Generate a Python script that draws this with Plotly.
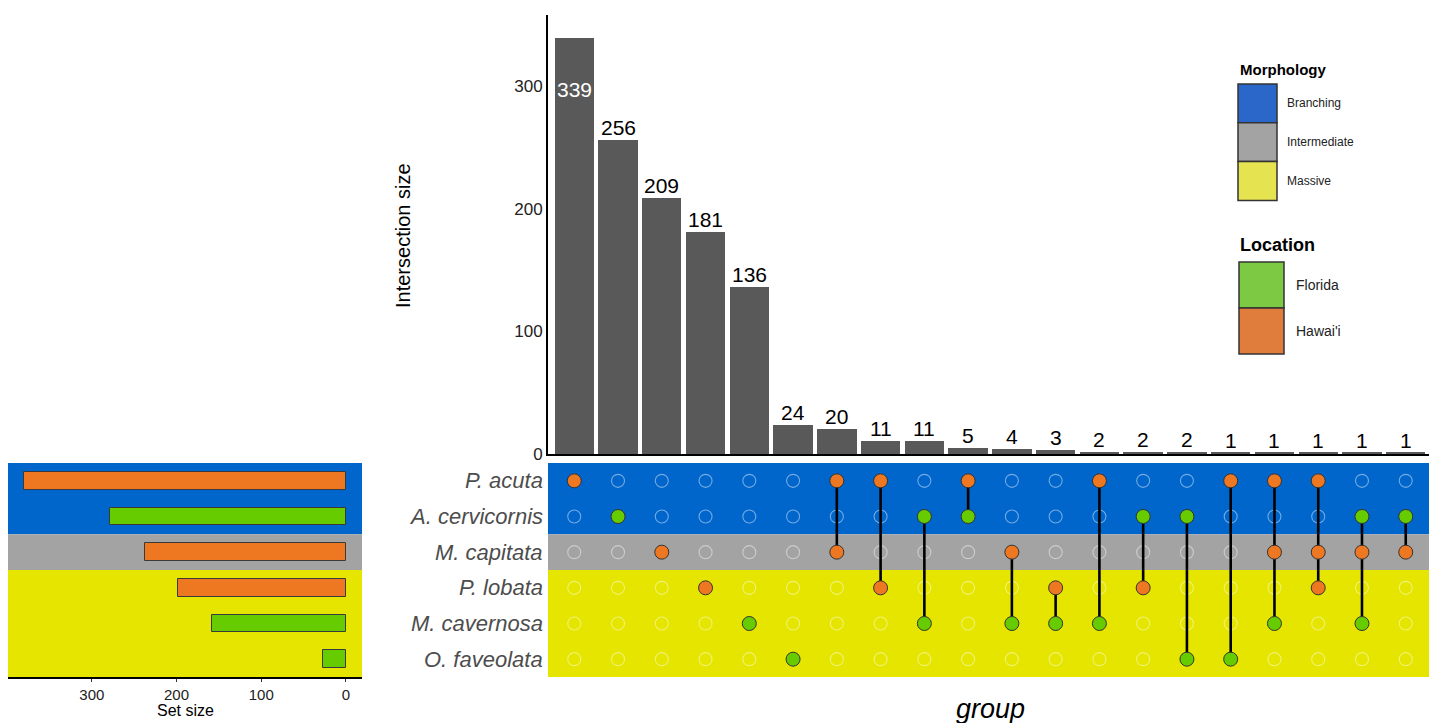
import plotly.graph_objects as go

W, H = 1437, 723
OFF = 8                      # page body margin added by the browser
FW, FH = W - OFF, H - OFF

# ---------------- data ----------------
sets = ["P. acuta", "A. cervicornis", "M. capitata", "P. lobata", "M. cavernosa", "O. faveolata"]
set_location = ["Hawai'i", "Florida", "Hawai'i", "Hawai'i", "Florida", "Florida"]
set_morphology = ["Branching", "Branching", "Intermediate", "Massive", "Massive", "Massive"]
set_sizes = [380, 278, 237, 198, 158, 27]

intersection_sizes = [339, 256, 209, 181, 136, 24, 20, 11, 11, 5, 4, 3, 2, 2, 2, 1, 1, 1, 1, 1]
intersection_members = [
    ["P. acuta"], ["A. cervicornis"], ["M. capitata"], ["P. lobata"], ["M. cavernosa"], ["O. faveolata"],
    ["P. acuta", "M. capitata"], ["P. acuta", "P. lobata"], ["A. cervicornis", "M. cavernosa"],
    ["P. acuta", "A. cervicornis"], ["M. capitata", "M. cavernosa"], ["P. lobata", "M. cavernosa"],
    ["P. acuta", "M. cavernosa"], ["A. cervicornis", "P. lobata"], ["A. cervicornis", "O. faveolata"],
    ["P. acuta", "O. faveolata"], ["P. acuta", "M. capitata", "M. cavernosa"],
    ["P. acuta", "M. capitata", "P. lobata"], ["A. cervicornis", "M. capitata", "M. cavernosa"],
    ["A. cervicornis", "M. capitata"],
]
intersection_ticks = [0, 100, 200, 300]
setsize_ticks = [300, 200, 100, 0]

morph_levels = ["Branching", "Intermediate", "Massive"]
loc_levels = ["Florida", "Hawai'i"]

# ---------------- styles ----------------
FONT = "Liberation Sans, Arial, Helvetica, sans-serif"
loc_color = {"Florida": "#66CC00", "Hawai'i": "#EE7722"}
morph_bg = {"Branching": "#0066CC", "Intermediate": "#A3A3A3", "Massive": "#E5E500"}
legend_morph = {"Branching": "#2B66C9", "Intermediate": "#A3A3A3", "Massive": "#E5E34F"}
legend_loc = {"Florida": "#7DC943", "Hawai'i": "#E07D3C"}
BAR = "#595959"


def px(x):
    return (x - OFF) / FW


def py(y):
    return 1 - (y - OFF) / FH


ncol = len(intersection_sizes)
cols = list(range(1, ncol + 1))
rows = list(range(len(sets)))

fig = go.Figure()

# intersection bars
fig.add_trace(go.Bar(x=cols, y=intersection_sizes, width=0.9, marker=dict(color=BAR, line=dict(width=0)),
                     xaxis="x", yaxis="y", showlegend=False, hoverinfo="x+y"))

# matrix
ex, ey = [], []
fx, fy, fc = [], [], []
lx, ly = [], []
for c, members in zip(cols, intersection_members):
    idx = [sets.index(m) for m in members]
    for r in rows:
        if r in idx:
            fx.append(c)
            fy.append(r)
            fc.append(loc_color[set_location[r]])
        else:
            ex.append(c)
            ey.append(r)
    if len(idx) > 1:
        lx += [c, c, None]
        ly += [min(idx), max(idx), None]

fig.add_trace(go.Scatter(x=ex, y=ey, mode="markers", xaxis="x2", yaxis="y2", showlegend=False,
                         marker=dict(symbol="circle-open", size=13, color="rgba(255,255,255,0.45)",
                                     line=dict(width=1.1)), hoverinfo="skip"))
fig.add_trace(go.Scatter(x=lx, y=ly, mode="lines", xaxis="x2", yaxis="y2", showlegend=False,
                         line=dict(color="black", width=2.6), hoverinfo="skip"))
fig.add_trace(go.Scatter(x=fx, y=fy, mode="markers", xaxis="x2", yaxis="y2", showlegend=False,
                         marker=dict(symbol="circle", size=14, color=fc, line=dict(color="#333333", width=1)),
                         hoverinfo="skip"))

# set size bars
fig.add_trace(go.Bar(x=set_sizes, y=rows, orientation="h", width=0.5, xaxis="x3", yaxis="y3", showlegend=False,
                     marker=dict(color=[loc_color[l] for l in set_location],
                                 line=dict(color="#3a3a3a", width=1)), hoverinfo="x"))

# ---------------- background bands ----------------
shapes = []
bounds = {}
for r, m in enumerate(set_morphology):
    lo, hi = bounds.get(m, (r, r))
    bounds[m] = (min(lo, r), max(hi, r))
for m, (lo, hi) in bounds.items():
    for xr, yr in (("x2 domain", "y2"), ("x3 domain", "y3")):
        shapes.append(dict(type="rect", xref=xr, yref=yr, x0=0, x1=1, y0=lo - 0.5, y1=hi + 0.5,
                           fillcolor=morph_bg[m], line=dict(width=0), layer="below"))

# ---------------- legend (custom) ----------------
annotations = []
annotations.append(dict(text="<b>Morphology</b>", x=px(1238), y=py(70), xref="paper", yref="paper",
                        xanchor="left", yanchor="middle", showarrow=False,
                        font=dict(family=FONT, size=15, color="black")))
ky = 84
kh = 38.8
for m in morph_levels:
    shapes.append(dict(type="rect", xref="paper", yref="paper", x0=px(1238), x1=px(1277),
                       y0=py(ky + kh), y1=py(ky), fillcolor=legend_morph[m],
                       line=dict(color="#333333", width=1.5)))
    annotations.append(dict(text=m, x=px(1285), y=py(ky + kh / 2), xref="paper", yref="paper",
                            xanchor="left", yanchor="middle", showarrow=False,
                            font=dict(family=FONT, size=12, color="#222222")))
    ky += kh

annotations.append(dict(text="<b>Location</b>", x=px(1238), y=py(245), xref="paper", yref="paper",
                        xanchor="left", yanchor="middle", showarrow=False,
                        font=dict(family=FONT, size=18, color="black")))
ky = 262
kh = 46
for l in loc_levels:
    shapes.append(dict(type="rect", xref="paper", yref="paper", x0=px(1239), x1=px(1284),
                       y0=py(ky + kh), y1=py(ky), fillcolor=legend_loc[l],
                       line=dict(color="#333333", width=1.5)))
    annotations.append(dict(text=l, x=px(1294), y=py(ky + kh / 2), xref="paper", yref="paper",
                            xanchor="left", yanchor="middle", showarrow=False,
                            font=dict(family=FONT, size=14, color="#222222")))
    ky += kh

# bar value labels
for i, (c, v) in enumerate(zip(cols, intersection_sizes)):
    if i == 0:
        annotations.append(dict(text=str(v), x=c, y=v, xref="x", yref="y", xanchor="center", yanchor="top",
                                yshift=-38, showarrow=False, font=dict(family=FONT, size=21, color="white")))
    else:
        annotations.append(dict(text=str(v), x=c, y=v, xref="x", yref="y", xanchor="center", yanchor="bottom",
                                yshift=-1, showarrow=False, font=dict(family=FONT, size=21, color="black")))

# row labels
for r, s in zip(rows, sets):
    annotations.append(dict(text="<i>%s</i>" % s, x=px(545), y=r, xref="paper", yref="y2", xanchor="right",
                            yanchor="middle", showarrow=False, font=dict(family=FONT, size=22, color="#4D4D4D")))

# axis titles
annotations.append(dict(text="Intersection size", x=px(403), y=py(236), xref="paper", yref="paper",
                        textangle=-90, xanchor="center", yanchor="middle", showarrow=False,
                        font=dict(family=FONT, size=20, color="black")))
annotations.append(dict(text="Set size", x=px(185), y=py(710), xref="paper", yref="paper",
                        xanchor="center", yanchor="middle", showarrow=False,
                        font=dict(family=FONT, size=16, color="black")))
annotations.append(dict(text="<i>group</i>", x=px(990), y=py(709), xref="paper", yref="paper",
                        xanchor="center", yanchor="middle", showarrow=False,
                        font=dict(family=FONT, size=27, color="black")))

top_max = (453.5 - 15) / 1.225

fig.update_layout(
    template="none",
    width=FW, height=FH, autosize=False,
    margin=dict(l=0, r=0, t=0, b=0, pad=0, autoexpand=False),
    paper_bgcolor="white", plot_bgcolor="rgba(0,0,0,0)",
    bargap=0, showlegend=False,
    font=dict(family=FONT),
    xaxis=dict(domain=[px(548), px(1432)], range=[0.4, 20.6], anchor="y", showticklabels=False, automargin=False,
               showgrid=False, zeroline=False, showline=True, linecolor="black", linewidth=2, ticks=""),
    yaxis=dict(domain=[py(454), py(15)], range=[0, top_max], anchor="x", tickvals=intersection_ticks,
               automargin=False,
               showgrid=False, zeroline=False, showline=True, linecolor="black", linewidth=2, ticks="",
               tickfont=dict(family=FONT, size=17, color="#222222")),
    xaxis2=dict(domain=[px(548), px(1432)], range=[0.4, 20.6], anchor="y2", matches="x", automargin=False,
                showticklabels=False, showgrid=False, zeroline=False, showline=False, ticks=""),
    yaxis2=dict(domain=[py(677), py(463)], range=[5.5, -0.5], anchor="x2", showticklabels=False, automargin=False,
                showgrid=False, zeroline=False, showline=False, ticks=""),
    xaxis3=dict(domain=[px(8), px(362)], range=[399, -19], anchor="y3", tickvals=setsize_ticks, automargin=False,
                showgrid=False, zeroline=False, showline=True, linecolor="black", linewidth=2,
                ticks="outside", ticklen=3, tickcolor="#333333",
                tickfont=dict(family=FONT, size=15, color="#222222")),
    yaxis3=dict(domain=[py(677), py(463)], range=[5.5, -0.5], anchor="x3", showticklabels=False, automargin=False,
                showgrid=False, zeroline=False, showline=False, ticks=""),
    shapes=shapes,
    annotations=annotations,
)

fig.write_html("out.html")
